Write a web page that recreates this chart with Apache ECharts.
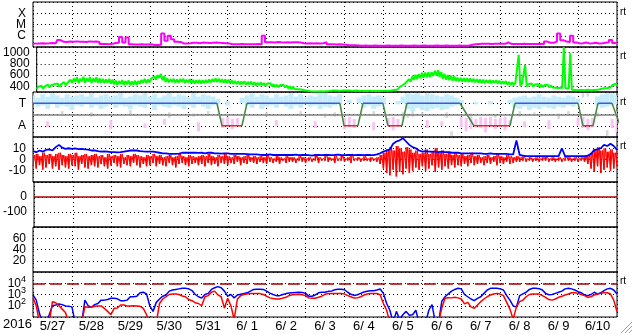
<!DOCTYPE html>
<html><head><meta charset="utf-8">
<script src="https://cdn.jsdelivr.net/npm/echarts@6/dist/echarts.min.js"></script>
<style>html,body{margin:0;padding:0;background:#fff}#c{width:633px;height:334px}</style>
</head><body><div id="c"></div>
<script>
// ---- categories / ticks ----
const days = ['5/27','5/28','5/29','5/30','5/31','6/ 1','6/ 2','6/ 3','6/ 4','6/ 5','6/ 6','6/ 7','6/ 8','6/ 9','6/10'];
const yearLabel = '2016';
const xrayClassTicks = {'-4':'X','-5':'M','-6':'C'};
const speedTicks = [400,600,800,1000];
const sectorTicks = {'1':'T','-1':'A'};
const fluxDecades = [2,3,4];
const fluxAlertLevel = 4;
const dstReference = 0;
const sectorZero = 0;
const rightMarks = ['rt','rt','rt','rt','rt'];

// ---- series values (2-hour samples from 5/27 00:00) ----
const xrayLog = [-6.68,-6.70,-6.68,-6.66,-6.68,-6.67,-6.65,-6.66,
 -6.38,
 -6.54,-6.55,-6.52,-6.54,-6.50,-6.54,-6.53,-6.55,-6.50,-6.54,-6.52,-6.55,
 -6.74,-6.73,-6.75,-6.72,
 -6.64,-6.63,
 -6.10,-6.60,
 -6.15,-6.76,-6.78,-6.77,-6.75,-6.77,-6.78,-6.76,
 -6.82,-6.82,-6.80,
 -5.80,-6.45,-6.00,-6.30,
 -6.53,-6.55,-6.68,-6.68,-6.66,
 -6.62,-6.62,-6.66,-6.60,-6.62,-6.64,-6.62,-6.60,-6.63,-6.64,-6.66,-6.68,
 -6.76,-6.75,-6.76,-6.74,-6.76,-6.75,-6.76,-6.75,-6.74,-6.76,
 -6.00,
 -6.58,-6.57,-6.60,-6.56,-6.58,-6.59,-6.57,-6.60,-6.58,-6.57,-6.60,
 -6.67,-6.68,-6.66,-6.68,-6.67,-6.68,-6.66,
 -6.58,
 -6.76,-6.75,-6.77,-6.76,-6.77,-6.80,
 -6.84,-6.85,-6.85,-6.86,
 -6.88,-6.87,-6.88,-6.88,-6.87,-6.88,-6.89,-6.88,-6.87,-6.88,
 -6.88,-6.88,-6.87,-6.88,-6.89,-6.88,-6.87,-6.88,-6.88,-6.87,
 -6.88,-6.89,-6.88,-6.87,-6.88,-6.88,-6.87,-6.88,-6.89,-6.88,
 -6.87,-6.88,-6.88,-6.87,
 -6.80,-6.75,-6.73,-6.72,-6.72,-6.71,-6.73,-6.72,-6.72,-6.70,-6.72,
 -6.60,
 -6.73,-6.74,-6.73,-6.74,-6.72,-6.74,-6.73,-6.74,-6.73,-6.72,-6.74,
 -6.52,-6.62,-6.62,-6.52,-5.80,-6.40,-6.52,-6.56,-6.00,-6.60,
 -6.68,-6.66,-6.60,-6.68,-6.66,-6.62,-6.68,-6.66,
 -6.62,-6.58,-6.37,-6.64,-6.68];

// solar wind speed: highest and lowest value read inside each 2-hour bin
const windHigh = [395,410,400,430,420,440,450,435,475,460,
 518,540,560,535,570,545,565,540,560,545,
 535,525,535,520,505,495,510,495,505,490,
 500,495,515,535,525,540,575,600,620,580,
 540,530,535,525,530,535,520,530,515,510,
 515,510,515,525,530,540,535,530,525,520,
 505,495,490,485,490,480,485,475,465,470,
 460,450,455,440,430,425,430,420,405,390,
 377,372,367,357,347,337,332,334,337,334,
 335,340,345,345,340,345,348,345,340,345,
 342,340,338,342,340,340,338,340,342,340,
 355,365,385,420,465,530,575,605,620,640,
 645,650,655,675,685,655,625,600,590,580,
 555,550,545,540,542,535,530,525,520,515,
 515,505,510,500,490,495,480,475,470,960,
 450,780,440,450,435,440,430,425,430,420,
 410,405,400,1100,395,990,370,365,360,365,
 357,362,357,360,362,377,395,400,420,445,
 460];
const windLow = [355,370,360,390,380,400,410,395,435,420,
 438,460,480,455,490,465,485,460,480,465,
 465,455,465,450,435,425,440,425,435,420,
 430,425,445,465,455,470,505,520,550,510,
 480,470,475,465,470,475,460,470,455,450,
 455,450,455,465,470,480,475,470,465,460,
 455,445,440,435,440,430,435,425,415,420,
 420,410,415,400,390,385,390,380,365,350,
 353,348,343,333,323,313,308,310,313,310,
 315,320,325,325,320,325,328,325,320,325,
 322,320,318,322,320,320,318,320,322,320,
 325,335,345,370,395,450,485,515,530,545,
 555,560,565,585,595,565,535,520,510,500,
 495,490,485,480,482,475,470,465,460,455,
 465,455,460,450,440,445,430,425,420,440,
 410,420,400,410,395,400,390,385,390,380,
 380,375,370,375,365,360,340,335,330,335,
 333,338,333,336,338,353,365,370,380,395,
 420];

const imfBt = [7.5,6.5,8,7,8.5,9,8,11,13,10.5,
 9.5,10,9.5,9.8,9.2,9.5,9,8.8,8,8.2,
 7.5,7,7.2,7,6.5,6.6,6.4,6.5,7,7.5,
 8,8,8,7.5,7.2,7,7,7,6.5,6,
 5.5,5.5,5,5,5,5.2,6,6,6.2,6,
 6,5.8,6,5.5,6,6,5.5,5.5,5.2,5.5,
 5.5,5,5,5,5,5,4.8,4.5,4.5,4.5,
 4.2,4,4,4.5,4,4,4,4.2,4,4,
 4,4.3,3.8,4,4.2,3.9,3.5,4.1,4,3.8,
 4,4.2,3.9,4,4.3,4,3.8,4.1,4,3.9,
 4.1,4,3.8,4.2,4,3.9,4.5,5.5,7,8,
 9,14,16,17,19,16,13,11,10,8,
 7,7.5,7,7,7,6.5,7,6.5,6.5,6,
 6,6,5.5,5.5,5.5,5.5,5.5,5.5,5.5,5,
 5,5.5,5,5,5,5,5,4.5,4.5,17,
 4,3.5,3,3,3,3,3,3,3,3,
 3,3,3,10,3,3,3,3,3,3,
 3,3.5,5,8.5,9,10,13,12,14,12,
 8.5];

// Bz: highest and lowest value read inside each 2-hour bin
const bzHigh = [4,5,3,6,4,5,3,5,6,4,
 3,5,4,6,3,4,5,3,4,5,
 3,4,2,5,3,4,3,5,2,4,
 3,5,4,3,2,4,3,5,3,4,
 2,3,4,2,3,5,3,2,4,3,
 2,3,4,3,5,3,2,4,3,5,
 3,2,4,3,2,3,4,2,3,2,
 3,2,4,2,1,3,2,1,3,2,
 2,1,3,2,1,2,1,4,2,1,
 5,2,1,3,1,4,1,2,5,1,
 2,1,3,1,2,1,2,4,6,9,
 11,8,12,10,7,11,9,6,8,5,
 6,9,5,7,10,6,8,5,7,4,
 6,4,5,3,4,6,3,4,2,3,
 4,2,3,5,3,2,4,3,2,3,
 2,3,1,2,1,2,1,2,3,1,
 2,1,2,1,3,2,1,2,1,2,
 3,4,6,9,11,8,10,7,9,6,
 8];
const bzLow = [-6,-8,-5,-9,-7,-4,-8,-6,-9,-5,
 -7,-8,-5,-6,-9,-4,-7,-8,-5,-6,
 -7,-4,-6,-8,-5,-3,-6,-7,-4,-5,
 -6,-3,-5,-7,-4,-6,-5,-3,-6,-4,
 -5,-6,-3,-5,-7,-4,-3,-5,-6,-4,
 -3,-5,-4,-6,-3,-5,-4,-6,-3,-4,
 -5,-3,-4,-2,-5,-3,-4,-2,-3,-4,
 -2,-3,-4,-2,-3,-2,-4,-1,-3,-2,
 -2,-3,-1,-2,-3,-1,-2,-1,-3,-1,
 -1,-2,-1,-3,-1,-1,-2,-1,-3,-1,
 -1,-2,-1,-1,-2,-1,-2,-4,-8,-12,
 -14,-9,-15,-11,-13,-8,-12,-10,-7,-9,
 -6,-10,-8,-5,-11,-7,-9,-6,-8,-5,
 -7,-5,-6,-4,-6,-3,-5,-4,-3,-5,
 -3,-4,-2,-5,-3,-4,-2,-4,-3,-2,
 -2,-1,-2,-1,-2,-1,-2,-1,-1,-2,
 -1,-2,-1,-2,-1,-1,-2,-1,-2,-1,
 -2,-4,-8,-11,-6,-12,-9,-7,-10,-8,
 -6];

// particle flux, log10 (values below 1 fall under the axis)
const protonLog = [2.96,2.5,1.3,0.5,0.5,1.2,2.0,2.07,2.16,2.1,
 1.98,1.95,1.9,0.5,0.5,0.5,2.5,2.0,1.86,2.1,
 2.2,2.5,2.5,2.55,2.66,2.66,2.62,2.45,2.45,2.5,
 2.8,2.8,2.85,3.16,3.2,3.05,2.0,1.5,2.3,2.6,
 2.85,2.96,3.3,3.4,3.45,3.5,3.55,3.55,3.5,3.35,
 3.0,2.8,2.68,3.0,3.1,3.45,3.6,3.7,3.6,3.3,
 2.85,3.0,2.7,2.96,3.02,3.08,3.15,3.3,3.45,3.46,
 3.46,3.45,3.3,3.12,3.0,2.9,2.9,3.0,3.08,3.13,
 3.16,3.18,3.2,3.18,3.1,2.85,2.85,2.96,3.15,3.2,
 3.2,3.28,3.3,3.42,3.46,3.46,3.42,3.2,3.02,2.92,
 2.98,3.1,3.22,3.28,3.34,3.34,3.4,3.49,3.1,2.2,
 1.6,0.5,1.5,0.8,1.2,1.5,1.15,1.2,1.6,0.5,
 0.5,0.5,1.6,2.1,0.5,0.5,2.4,2.8,3.05,3.3,
 3.45,3.55,3.5,3.0,2.8,2.6,2.45,2.66,2.8,3.1,
 3.4,3.55,3.55,3.55,3.5,3.4,2.9,2.5,1.98,1.9,
 2.9,3.05,3.2,3.45,3.55,3.55,3.52,3.4,3.1,2.98,
 3.0,3.1,3.2,3.3,3.5,3.55,3.5,3.4,3.25,3.15,
 2.96,2.9,3.0,3.2,3.04,3.15,3.35,3.5,3.55,3.4,
 3.04];
const electronLog = [2.7,2.0,0.5,0.5,0.5,0.5,2.36,2.27,2.0,1.7,
 1.4,0.5,0.5,0.5,0.5,0.5,1.92,1.86,1.86,1.95,
 1.98,1.98,1.77,1.5,1.2,1.77,1.8,2.07,2.07,1.98,
 1.98,2.0,1.98,1.95,1.77,1.2,0.5,0.5,0.5,2.2,
 2.6,2.8,3.0,3.04,3.04,3.0,2.87,2.8,2.55,2.45,
 2.27,2.2,2.0,2.8,2.9,3.2,3.3,2.96,2.8,1.8,
 2.66,2.0,0.8,2.6,2.9,3.0,3.05,3.1,3.1,3.1,
 3.08,3.0,2.85,2.7,2.64,2.6,2.6,2.68,2.75,2.92,
 2.98,3.0,3.02,2.98,2.9,2.7,2.66,2.66,2.75,2.85,
 3.02,3.08,3.1,3.1,3.1,3.1,3.05,2.9,2.8,2.68,
 2.7,2.8,2.95,3.05,3.1,3.1,3.1,2.98,2.2,1.6,
 0.5,0.5,0.5,0.5,0.5,0.5,0.5,0.5,0.5,0.5,
 0.5,0.5,0.5,0.5,0.5,0.5,1.8,2.66,2.72,2.7,
 2.75,2.7,2.6,2.16,2.3,1.9,1.77,2.07,2.36,2.6,
 2.8,2.96,3.05,3.1,3.04,2.9,2.3,1.7,0.8,1.9,
 2.36,2.5,2.8,3.0,3.04,3.04,3.04,2.9,2.75,2.55,
 2.5,2.6,2.75,2.85,2.96,3.05,3.16,3.16,3.1,3.0,
 2.9,2.75,2.8,2.96,3.04,3.1,3.16,3.16,3.04,2.5,
 1.47];

// ---- sector panel (3-hour samples) ----
const sectorBlueTop = [1.7,1.5,1.8,1.6,1.9,1.7,1.5,1.8,1.6,1.7,
 1.8,1.6,1.9,1.5,1.7,1.8,1.6,1.7,1.9,1.5,
 1.6,1.8,1.7,1.9,1.6,1.8,1.5,1.7,1.9,1.6,
 1.8,1.7,1.5,1.9,1.6,1.8,1.7,1.6,1.4,null,
 1.2,null,null,1.5,1.7,1.9,1.6,1.8,1.7,1.5,
 1.8,1.6,1.7,1.9,1.6,1.8,1.5,1.7,1.6,1.8,
 1.9,1.7,1.6,1.8,null,1.3,null,1.5,1.7,1.8,
 1.6,1.7,1.5,null,null,1.2,1.6,1.9,1.8,1.9,
 1.7,1.9,1.8,1.7,1.6,1.8,1.7,1.5,1.3,null,
 null,1.1,null,null,1.2,null,null,null,1.3,1.5,
 1.6,1.7,1.5,1.6,1.8,1.6,1.5,1.7,1.6,1.5,
 1.7,1.6,1.4,null,null,null,1.6,1.8,1.9,1.9,
 1.7];
const sectorBlueBottom = [0.9,0.7,0.8,0.5,0.9,0.6,0.8,0.7,0.4,0.8,
 0.7,0.9,0.6,0.8,0.5,0.7,0.9,0.6,0.8,0.7,
 0.5,0.8,0.7,0.6,0.9,0.4,0.8,0.7,0.6,0.8,
 0.7,0.5,0.8,0.6,0.9,0.7,0.5,0.8,0.9,null,
 0.8,null,null,1.0,0.8,0.6,0.9,0.5,0.7,0.8,
 0.6,0.9,0.7,0.5,0.8,0.6,0.9,0.7,0.8,0.5,
 0.7,0.6,0.8,0.9,null,1.0,null,1.0,0.6,0.8,
 0.5,0.7,0.9,null,null,0.9,1.0,0.5,0.3,0.6,
 0.4,0.3,0.5,0.6,0.4,0.5,0.7,0.8,1.0,null,
 null,0.9,null,null,0.9,null,null,null,1.0,0.6,
 0.5,0.7,0.4,0.6,0.5,0.7,0.6,0.5,0.7,0.6,
 0.8,0.7,1.0,null,null,null,0.8,0.6,0.7,0.8,
 0.9];
const pinkHour = [9,48,69,81,102,117,120,123,126,150,174,192,195,198,210,219,222,225,243,252,264,267,270,273,276,279,282,285,288,291,294,303,318,336,339,342,345,357,360];
const pinkTop = [-0.6,-0.5,-0.8,-0.4,-0.7,-0.3,-0.2,-0.4,-0.3,-0.5,-0.6,-0.3,-0.2,-0.4,-0.7,-0.3,-0.2,-0.4,-0.5,-0.6,-0.2,-0.3,-0.2,-0.4,-0.2,-0.3,-0.2,-0.4,-0.3,-0.2,-0.5,-0.6,-0.5,-0.3,-0.2,-0.4,-0.3,-0.4,-0.3];
const pinkBottom = [-1.1,-1.3,-1.2,-0.9,-1.5,-1.2,-1.0,-1.3,-0.9,-1.0,-1.2,-1.3,-1.1,-1.2,-1.4,-1.0,-1.4,-1.1,-1.2,-1.0,-1.1,-1.5,-1.3,-1.0,-1.2,-1.6,-1.0,-1.3,-1.1,-1.4,-0.9,-1.1,-1.3,-1.0,-1.2,-1.4,-1.1,-1.2,-1.6];
const grayHour = [18,36,60,84,99,108,144,165,180,186,210,228,231,234,240,255,258,270,285,300,309,324,330,339,342,348,354,360];
const grayTop = [0.3,0.2,0.4,0.2,0.1,0.3,0.2,0.3,0.1,0.2,0.3,0.2,0.1,0.3,0.2,0.2,-1.5,0.1,0.0,0.3,0.2,0.1,0.3,1.9,1.9,0.2,-1.4,0.3];
const grayBottom = [-0.1,-0.2,0.0,-0.3,-0.2,-0.1,-0.2,0.0,-0.3,-0.2,-0.1,-0.4,-0.3,-0.2,-0.1,-0.3,-1.9,-0.2,-0.3,-0.2,-0.1,-0.4,0.0,1.5,1.6,-0.2,-1.9,-0.4];
// sector polarity: +1 toward (T), -1 away (A)
const polarityHour = [0,113.4,116.5,128.8,131.9,189.2,191.7,200.3,203.4,215.7,218.8,227.4,230.5,263.2,271.8,294.0,297.1,336.0,339.0,345.2,348.3,356.9,362];
const polarityValue = [1,1,-1,-1,1,1,-1,-1,1,1,-1,-1,1,1,-1,-1,1,1,-1,-1,1,1,-1];

// ---------------------------------------------------------------
const FONT = '"Liberation Sans", Arial, Helvetica, sans-serif';
const DOT = [1, 3];
const chart = echarts.init(document.getElementById('c'), null, {renderer: 'canvas'});
const grids = [], xAxes = [], yAxes = [], series = [];
for (let i = 0; i < 7; i++) {
  grids.push({left: 33, right: 16, top: 2 + 45 * i, height: 45, show: true,
    borderColor: '#000', borderWidth: 1, backgroundColor: 'transparent', containLabel: false});
  xAxes.push({type: 'value', gridIndex: i, min: 0, max: 360, interval: 24,
    axisLine: {show: false}, axisTick: {show: false}, axisLabel: {show: false},
    splitLine: {show: true, lineStyle: {color: '#000', type: DOT, width: 1}}});
}
xAxes.push({type: 'value', gridIndex: 6, min: 0, max: 360, interval: 12, position: 'bottom',
  axisLine: {show: false}, axisTick: {show: false}, splitLine: {show: false},
  axisLabel: {show: true, margin: 3, color: '#000', fontSize: 13, fontFamily: FONT,
    showMinLabel: true, showMaxLabel: true,
    formatter: v => (Math.round(v) % 24 === 12) ? days[(Math.round(v) - 12) / 24] : ''}});

const lab = (fmt, extra) => Object.assign({show: true, color: '#000', fontSize: 12, fontFamily: FONT, margin: 7,
  showMinLabel: true, showMaxLabel: true, formatter: fmt}, extra || {});
const yBase = (gi, min, max, interval, label, split) => ({
  type: 'value', gridIndex: gi, min, max, interval,
  axisLine: {show: false}, axisTick: {show: false}, axisLabel: label,
  splitLine: {show: split !== false, lineStyle: {color: '#000', type: DOT, width: 1}}
});
yAxes.push(yBase(0, -7, -3, 1, lab(v => xrayClassTicks[String(Math.round(v))] || '')));
yAxes.push(yBase(1, 300, 1100, 100, lab(v => speedTicks.includes(Math.round(v)) ? String(Math.round(v)) : ''), false));
yAxes.push(yBase(2, -2, 2, 1, lab(v => sectorTicks[String(Math.round(v))] || '')));
yAxes.push(yBase(3, -20, 20, 10, lab(v => Math.abs(v) <= 10 ? String(v) : '')));
yAxes.push(yBase(4, -200, 100, 100, lab(v => (v === 0 || v === -100) ? String(v) : '')));
yAxes.push(yBase(5, 0, 80, 20, lab(v => (v > 0 && v < 80) ? String(v) : '')));
yAxes.push(yBase(6, 1, 5, 1, lab(v => fluxDecades.includes(Math.round(v)) ? '10{s|' + Math.round(v) + '}' : '',
  {rich: {s: {fontSize: 9, fontFamily: FONT, color: '#000', padding: [0, 0, 8, 0]}}})));

const pts2h = arr => arr.map((v, k) => [2 * k, v]);
// each 2-hour bin drawn low -> high, giving the dense ragged band of minute data
const band2h = (lows, highs) => {
  const out = [];
  lows.forEach((lo, k) => { out.push([2 * k, lo]); if (k < highs.length - 1) out.push([2 * k + 1, highs[k]]); });
  return out;
};
const lineS = (xi, data, color, width, extra) => Object.assign({
  type: 'line', xAxisIndex: xi, yAxisIndex: xi, data, showSymbol: false, symbol: 'none',
  silent: true, animation: false, clip: true,
  lineStyle: {color, width}, itemStyle: {color}
}, extra || {});
// vertical range bars (one per bin) drawn through the axis scales
const rangeSeries = (axis, hours, tops, bottoms, color, w) => ({
  type: 'custom', coordinateSystem: 'cartesian2d', xAxisIndex: axis, yAxisIndex: axis, silent: true, animation: false,
  clip: true,
  data: hours.map((h, i) => [h, tops[i], bottoms[i]]).filter(d => d[1] != null && d[2] != null),
  encode: {x: 0, y: [1, 2]},
  renderItem: (params, api) => {
    const a = api.coord([api.value(0), api.value(1)]);
    const b = api.coord([api.value(0), api.value(2)]);
    return {type: 'rect', shape: {x: a[0] - w / 2, y: a[1], width: w, height: Math.max(1, b[1] - a[1])},
      style: {fill: color}};
  }
});
const hours2h = bzHigh.map((v, k) => 2 * k);

// panel 1: X-ray
series.push(lineS(0, pts2h(xrayLog), '#ff00ff', 2, {step: 'middle'}));

// panel 2: wind speed
series.push(lineS(1, band2h(windLow, windHigh), '#00ff00', 2, {
  markLine: {silent: true, symbol: ['none', 'none'], label: {show: false}, animation: false, z: 1,
    lineStyle: {color: '#000', type: DOT, width: 1},
    data: speedTicks.map(v => ({yAxis: v}))}}));

// panel 3: sector
const sectorHours = sectorBlueTop.map((v, j) => 3 * j);
series.push(rangeSeries(2, grayHour, grayTop, grayBottom, '#d8d8d8', 2.5));
series.push(rangeSeries(2, sectorHours, sectorBlueTop, sectorBlueBottom, '#c4ecfa', 4.9));
series.push(rangeSeries(2, pinkHour, pinkTop, pinkBottom, '#f8c4f4', 3));
series.push(lineS(2, [], '#808080', 1, {
  markLine: {silent: true, symbol: ['none', 'none'], label: {show: false}, animation: false,
    lineStyle: {color: '#808080', type: 'solid', width: 1.5}, data: [{yAxis: sectorZero}]}}));
for (let i = 0; i < polarityHour.length - 1; i++) {
  const v0 = polarityValue[i], v1 = polarityValue[i + 1];
  const col = v0 !== v1 ? '#3f8a3f' : (v0 > 0 ? '#4456dd' : '#dd2a2a');
  series.push(lineS(2, [[polarityHour[i], v0], [polarityHour[i + 1], v1]], col, 1.5));
}

// panel 4: IMF
series.push(rangeSeries(3, hours2h, bzHigh, bzLow, '#ff0000', 1.5));
series.push(lineS(3, band2h(bzLow, bzHigh), '#ff0000', 1));
series.push(lineS(3, pts2h(imfBt), '#0000ff', 1.8));

// panel 5: Dst reference
series.push(lineS(4, [], '#aa0000', 1, {
  markLine: {silent: true, symbol: ['none', 'none'], label: {show: false}, animation: false,
    lineStyle: {color: '#aa0000', type: 'solid', width: 1.5}, data: [{yAxis: dstReference}]}}));

// panel 7: particle flux
series.push(lineS(6, pts2h(protonLog), '#0000ff', 1.5, {
  markLine: {silent: true, symbol: ['none', 'none'], label: {show: false}, animation: false,
    lineStyle: {color: '#aa0000', type: [12, 5], width: 1.5}, data: [{yAxis: fluxAlertLevel}]}}));
series.push(lineS(6, pts2h(electronLog), '#ff0000', 1.5));

// extra text
const graphic = [
  {type: 'text', left: 3, top: 318, style: {text: yearLabel, font: '13px ' + FONT, fill: '#000'}, silent: true}
];
const markTops = [7, 51, 97, 141, 276];
markTops.forEach((t, i) => graphic.push({type: 'text', left: 620, top: t,
  style: {text: rightMarks[i], font: '10px ' + FONT, fill: '#000'}, silent: true}));
[[621, 333, 632, 322], [625, 333, 632, 326], [629, 333, 632, 330]].forEach(s => graphic.push({
  type: 'line', shape: {x1: s[0], y1: s[1], x2: s[2], y2: s[3]}, style: {stroke: '#a0a0a0', lineWidth: 1}, silent: true}));

chart.setOption({
  animation: false,
  backgroundColor: '#ffffff',
  grid: grids, xAxis: xAxes, yAxis: yAxes, series, graphic
});
</script></body></html>
